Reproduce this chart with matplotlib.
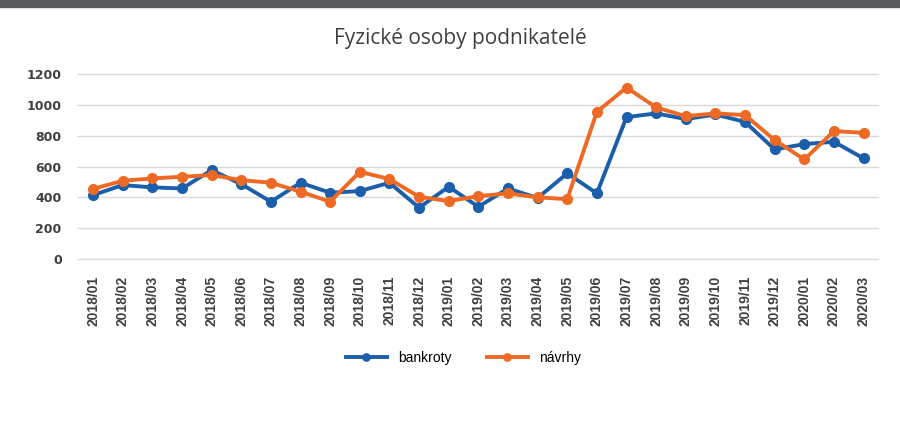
import matplotlib.pyplot as plt
from matplotlib.patches import Rectangle

months = ["2018/01", "2018/02", "2018/03", "2018/04", "2018/05", "2018/06",
          "2018/07", "2018/08", "2018/09", "2018/10", "2018/11", "2018/12",
          "2019/01", "2019/02", "2019/03", "2019/04", "2019/05", "2019/06",
          "2019/07", "2019/08", "2019/09", "2019/10", "2019/11", "2019/12",
          "2020/01", "2020/02", "2020/03"]

bankroty = [415, 480, 465, 458, 577, 486, 372, 495, 430, 441, 495, 333,
            469, 339, 458, 396, 556, 426, 921, 945, 908, 938, 890, 711,
            746, 761, 653]

navrhy = [455, 508, 523, 534, 545, 512, 495, 437, 372, 566, 519, 404,
          376, 408, 426, 400, 389, 955, 1113, 984, 927, 945, 934, 772,
          646, 830, 819]

blue = "#1b5eab"
orange = "#ee6a24"

fig = plt.figure(figsize=(9, 4.26), dpi=100)
ax = fig.add_axes([0.087, 0.392, 0.889, 0.434])

# dark band cut at the top of the page
fig.patches.append(Rectangle((0, 1 - 7 / 426), 1, 7 / 426, transform=fig.transFigure,
                             color="#58595b", zorder=0))

x = list(range(len(months)))
ax.plot(x, bankroty, color=blue, lw=2.8, marker="o", ms=7, label="bankroty", zorder=3)
ax.plot(x, navrhy, color=orange, lw=2.8, marker="o", ms=7, label="návrhy", zorder=4)

ax.set_xlim(-0.5, len(months) - 0.5)
ax.set_ylim(0, 1200)
ax.set_yticks(range(0, 1201, 200))
ax.grid(axis="y", color="#d9d9d9", lw=1)
for g in ax.get_ygridlines():
    g.set_clip_on(False)
ax.set_axisbelow(True)
for s in ax.spines.values():
    s.set_visible(False)

ax.set_xticks(x)
ax.set_xticklabels(months, rotation=90, fontsize=10, fontweight="bold",
                   color="#404040", family=["Liberation Sans Narrow", "Liberation Sans"])
ax.tick_params(axis="x", length=0, pad=12)
ax.tick_params(axis="y", length=0, pad=12, labelsize=9, labelcolor="#404040")
for t in ax.get_yticklabels():
    t.set_fontweight("bold")

fig.text(0.512, 0.91, "Fyzické osoby podnikatelé", ha="center", va="center",
         fontsize=15, color="#404040", family="Open Sans")

fig.legend(loc="center", bbox_to_anchor=(0.515, 0.16), ncol=2, frameon=False,
           handlelength=3, columnspacing=2.5, markerscale=0.75,
           prop={"family": "Liberation Sans", "size": 10})

fig.savefig("out.png", dpi=100)
